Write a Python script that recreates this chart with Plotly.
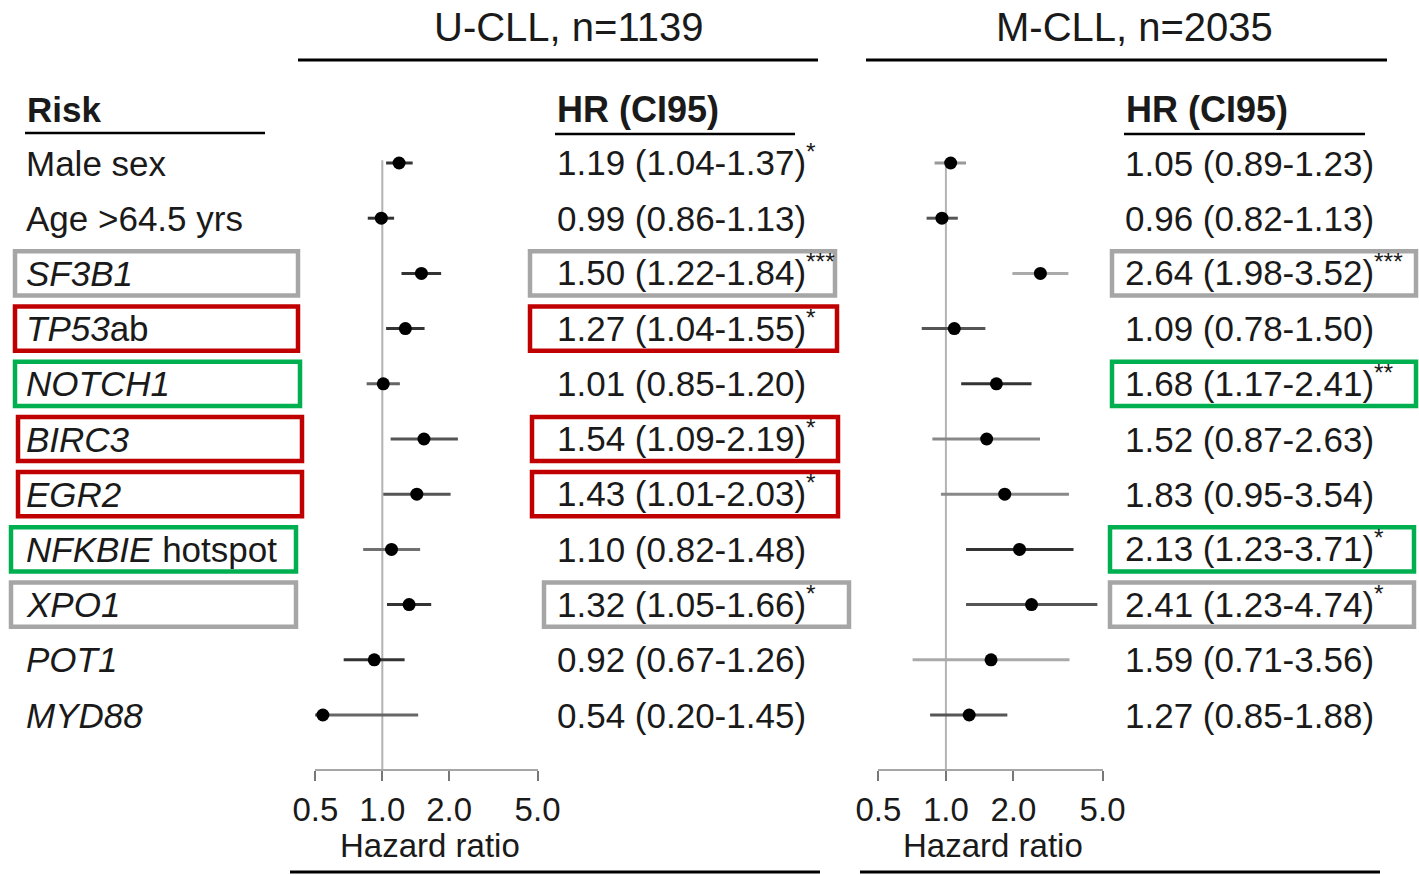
import math
import plotly.graph_objects as go

# ---------------- data ----------------
risk_labels = ["Male sex", "Age >64.5 yrs", "<i>SF3B1</i>", "<i>TP53</i>ab", "<i>NOTCH1</i>",
               "<i>BIRC3</i>", "<i>EGR2</i>", "<i>NFKBIE</i> hotspot", "<i>XPO1</i>",
               "<i>POT1</i>", "<i>MYD88</i>"]

u_title = "U-CLL, n=1139"
u_hr = [1.19, 0.99, 1.50, 1.27, 1.01, 1.54, 1.43, 1.10, 1.32, 0.92, 0.54]
u_lo = [1.04, 0.86, 1.22, 1.04, 0.85, 1.09, 1.01, 0.82, 1.05, 0.67, 0.20]
u_hi = [1.37, 1.13, 1.84, 1.55, 1.20, 2.19, 2.03, 1.48, 1.66, 1.26, 1.45]
u_sig = ["*", "", "***", "*", "", "*", "*", "", "*", "", ""]

m_title = "M-CLL, n=2035"
m_hr = [1.05, 0.96, 2.64, 1.09, 1.68, 1.52, 1.83, 2.13, 2.41, 1.59, 1.27]
m_lo = [0.89, 0.82, 1.98, 0.78, 1.17, 0.87, 0.95, 1.23, 1.23, 0.71, 0.85]
m_hi = [1.23, 1.13, 3.52, 1.50, 2.41, 2.63, 3.54, 3.71, 4.74, 3.56, 1.88]
m_sig = ["", "", "***", "", "**", "", "", "*", "*", "", ""]

tick_vals = [0.5, 1.0, 2.0, 5.0]
tick_text = ["0.5", "1.0", "2.0", "5.0"]
axis_title = "Hazard ratio"

# highlight boxes (row index -> colour name)
label_highlight = {2: "gray", 3: "red", 4: "green", 5: "red", 6: "red", 7: "green", 8: "gray"}
u_hr_highlight = {2: "gray", 3: "red", 5: "red", 6: "red", 8: "gray"}
m_hr_highlight = {2: "gray", 4: "green", 7: "green", 8: "gray"}

# ---------------- styles ----------------
W, H = 1419, 875
FONT = "Liberation Sans, Arial, sans-serif"
TXT = "#1a1a1a"
BOX_COL = {"gray": "#a6a6a6", "red": "#c00000", "green": "#00b050"}
u_ci_col = ["#333", "#333", "#333", "#333", "#666", "#555", "#555", "#707070", "#333", "#333", "#666"]
m_ci_col = ["#999", "#555", "#aaa", "#555", "#333", "#888", "#888", "#333", "#555", "#aaa", "#555"]

ROW0, ROWSTEP = 163.0, 55.2   # pixel of first row / row spacing


def px(p):
    return p / W


def py(p):
    return 1 - p / H


def prow(p):
    return (p - ROW0) / ROWSTEP


n = len(risk_labels)
rows = list(range(n))

fig = go.Figure()

panels = [
    dict(xa="x", hr=u_hr, lo=u_lo, hi=u_hi, col=u_ci_col),
    dict(xa="x2", hr=m_hr, lo=m_lo, hi=m_hi, col=m_ci_col),
]

for pnl in panels:
    # reference line at HR = 1
    fig.add_trace(go.Scatter(x=[1, 1], y=[-0.05, prow(770)], mode="lines",
                             line=dict(color="#b3b3b3", width=2),
                             xaxis=pnl["xa"], yaxis="y", hoverinfo="skip", showlegend=False))
    for i in rows:
        fig.add_trace(go.Scatter(x=[pnl["lo"][i], pnl["hi"][i]], y=[i, i], mode="lines",
                                 line=dict(color=pnl["col"][i], width=3),
                                 xaxis=pnl["xa"], yaxis="y", hoverinfo="skip", showlegend=False))
    fig.add_trace(go.Scatter(x=pnl["hr"], y=rows, mode="markers",
                             marker=dict(color="black", size=13),
                             xaxis=pnl["xa"], yaxis="y", showlegend=False))

annotations = []
shapes = []


def add_text(text, x, y, size=35, xanchor="left", yref="y", bold=False, yshift=0):
    if bold:
        text = "<b>" + text + "</b>"
    annotations.append(dict(text=text, x=x, y=y, xref="paper", yref=yref,
                            xanchor=xanchor, yanchor="middle", showarrow=False, yshift=yshift,
                            font=dict(family=FONT, size=size, color=TXT)))


def hline(x0, x1, y, width=3, color="black"):
    shapes.append(dict(type="line", xref="paper", yref="paper",
                       x0=px(x0), x1=px(x1), y0=py(y), y1=py(y),
                       line=dict(color=color, width=width)))


def box(x0, x1, row, color):
    shapes.append(dict(type="rect", xref="paper", yref="y",
                       x0=px(x0), x1=px(x1), y0=row - 0.4, y1=row + 0.4,
                       line=dict(color=BOX_COL[color], width=4.5),
                       fillcolor="rgba(0,0,0,0)", layer="below"))


def fmt(h, l, u, s):
    t = f"{h:.2f} ({l:.2f}-{u:.2f})"
    if s:
        t += "<sup>" + s + "</sup>"
    return t


# titles
add_text(u_title, px(568), py(27), size=40, xanchor="center", yref="paper")
add_text(m_title, px(1134), py(27), size=40, xanchor="center", yref="paper")
hline(298, 818, 60)
hline(866, 1387, 60)

# headers
add_text("Risk", px(25), py(110), size=35, yref="paper", bold=True)
hline(25, 265, 133, width=2.5)
add_text("HR (CI95)", px(555), py(110), size=36, yref="paper", bold=True)
hline(555, 795, 134, width=2.5)
add_text("HR (CI95)", px(1124), py(110), size=36, yref="paper", bold=True)
hline(1124, 1365, 134, width=2.5)

# rows
for i in rows:
    add_text(risk_labels[i], px(24), i)
    add_text(fmt(u_hr[i], u_lo[i], u_hi[i], u_sig[i]), px(555), i, yshift=3 if u_sig[i] else 0)
    add_text(fmt(m_hr[i], m_lo[i], m_hi[i], m_sig[i]), px(1123), i, yshift=3 if m_sig[i] else 0)

# highlight boxes
label_x = {2: (15, 298), 3: (15, 298), 4: (15, 300), 5: (18, 302), 6: (18, 302), 7: (11, 296), 8: (11, 296)}
u_x = {2: (530, 835), 3: (530, 837), 5: (532, 838), 6: (532, 838), 8: (544, 849)}
m_x = {2: (1112, 1416), 4: (1112, 1416), 7: (1110, 1414), 8: (1110, 1414)}
for r, c in label_highlight.items():
    box(*label_x[r], r, c)
for r, c in u_hr_highlight.items():
    box(*u_x[r], r, c)
for r, c in m_hr_highlight.items():
    box(*m_x[r], r, c)

# axis titles
add_text(axis_title, px(430), py(845), size=33, xanchor="center", yref="paper")
add_text(axis_title, px(993), py(845), size=33, xanchor="center", yref="paper")

# bottom lines
hline(290, 820, 872, width=3)
hline(860, 1380, 872, width=3)

lo_r, hi_r = math.log10(0.5) - 0.002, math.log10(5.0) + 0.002
axis_common = dict(type="log", range=[lo_r, hi_r], tickvals=tick_vals, ticktext=tick_text,
                   showgrid=False, zeroline=False, showline=True, linecolor="#a6a6a6", linewidth=2,
                   ticks="outside", ticklen=10, tickwidth=2, tickcolor="#777",
                   tickfont=dict(family=FONT, size=33, color=TXT), automargin=False,
                   anchor="free", position=py(770), fixedrange=True)

fig.update_layout(
    width=W, height=H,
    margin=dict(l=0, r=0, t=0, b=0, pad=0, autoexpand=False),
    paper_bgcolor="white", plot_bgcolor="rgba(0,0,0,0)",
    xaxis=dict(domain=[px(315), px(538)], **axis_common),
    xaxis2=dict(domain=[px(878), px(1103)], **axis_common),
    yaxis=dict(domain=[0, 1], range=[prow(H), prow(0)], visible=False, fixedrange=True),
    annotations=annotations,
    shapes=shapes,
    showlegend=False,
)

fig.write_html("out.html")
